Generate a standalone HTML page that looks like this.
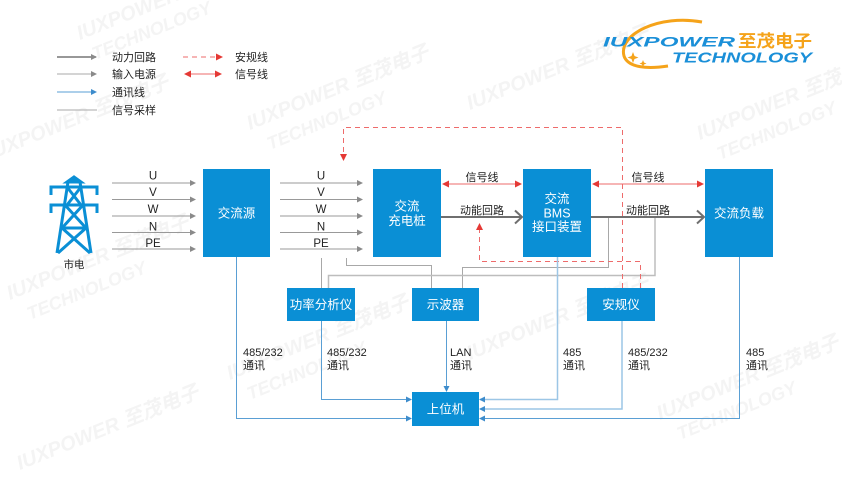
<!DOCTYPE html>
<html><head><meta charset="utf-8"><style>
html,body{margin:0;padding:0;background:#fff;}
svg{display:block;}
text{font-family:"Liberation Sans","Noto Sans CJK SC",sans-serif;}
</style></head><body>
<svg width="842" height="482" viewBox="0 0 842 482" xmlns="http://www.w3.org/2000/svg">
<defs>
<marker id="ag" markerWidth="6" markerHeight="6" refX="5" refY="3" orient="auto" markerUnits="userSpaceOnUse"><path d="M0,0 L6,3 L0,6 z" fill="#8a8a8a"/></marker>
<marker id="ab" markerWidth="6" markerHeight="6" refX="5" refY="3" orient="auto" markerUnits="userSpaceOnUse"><path d="M0,0 L6,3 L0,6 z" fill="#3d8ccc"/></marker>
<marker id="ar" markerWidth="7" markerHeight="7" refX="6" refY="3.5" orient="auto" markerUnits="userSpaceOnUse"><path d="M0,0 L7,3.5 L0,7 z" fill="#e53935"/></marker>
<marker id="ars" markerWidth="7" markerHeight="7" refX="1" refY="3.5" orient="auto" markerUnits="userSpaceOnUse"><path d="M7,0 L0,3.5 L7,7 z" fill="#e53935"/></marker>
</defs>

<!-- watermarks -->
<g fill="#f4f4f4" font-weight="bold" font-style="italic">
<text x="80" y="40" font-size="20" transform="rotate(-22 80 40)">IUXPOWER 至茂电子</text>
<text x="95" y="60" font-size="18" transform="rotate(-22 95 60)">TECHNOLOGY</text>
<text x="-10" y="160" font-size="20" transform="rotate(-22 -10 160)">IUXPOWER 至茂电子</text>
<text x="10" y="300" font-size="20" transform="rotate(-22 10 300)">IUXPOWER 至茂电子</text>
<text x="30" y="320" font-size="18" transform="rotate(-22 30 320)">TECHNOLOGY</text>
<text x="250" y="130" font-size="20" transform="rotate(-22 250 130)">IUXPOWER 至茂电子</text>
<text x="270" y="150" font-size="18" transform="rotate(-22 270 150)">TECHNOLOGY</text>
<text x="470" y="110" font-size="20" transform="rotate(-22 470 110)">IUXPOWER 至茂电子</text>
<text x="700" y="140" font-size="20" transform="rotate(-22 700 140)">IUXPOWER 至茂电子</text>
<text x="720" y="160" font-size="18" transform="rotate(-22 720 160)">TECHNOLOGY</text>
<text x="230" y="380" font-size="20" transform="rotate(-22 230 380)">IUXPOWER 至茂电子</text>
<text x="250" y="400" font-size="18" transform="rotate(-22 250 400)">TECHNOLOGY</text>
<text x="470" y="360" font-size="20" transform="rotate(-22 470 360)">IUXPOWER 至茂电子</text>
<text x="660" y="420" font-size="20" transform="rotate(-22 660 420)">IUXPOWER 至茂电子</text>
<text x="680" y="440" font-size="18" transform="rotate(-22 680 440)">TECHNOLOGY</text>
<text x="20" y="470" font-size="20" transform="rotate(-22 20 470)">IUXPOWER 至茂电子</text>
</g>

<!-- logo -->
<path d="M702,22 C660,14 618,34 624,56 C628,68 648,69 668,66" fill="none" stroke="#f5a31a" stroke-width="3"/>
<text x="603" y="46.5" font-size="14" font-weight="bold" font-style="italic" fill="#1a8fd8" textLength="132" lengthAdjust="spacingAndGlyphs">IUXPOWER</text>
<text x="738" y="47" font-size="17" font-weight="bold" fill="#f5a31a" textLength="74" lengthAdjust="spacingAndGlyphs">至茂电子</text>
<text x="672" y="62.5" font-size="15" font-weight="bold" font-style="italic" fill="#1a8fd8" textLength="140" lengthAdjust="spacingAndGlyphs">TECHNOLOGY</text>
<path d="M633,52 L634.5,56 L638.5,57.5 L634.5,59 L633,63 L631.5,59 L627.5,57.5 L631.5,56 z" fill="#f5a31a"/>
<path d="M643,60 L644,62.5 L646.5,63.5 L644,64.5 L643,67 L642,64.5 L639.5,63.5 L642,62.5 z" fill="#f5a31a"/>

<!-- legend -->
<g font-size="11" fill="#222">
<line x1="57" y1="57" x2="96" y2="57" stroke="#777" stroke-width="1.5" marker-end="url(#ag)"/>
<text x="112" y="61">动力回路</text>
<line x1="57" y1="74" x2="96" y2="74" stroke="#aaa" stroke-width="1" marker-end="url(#ag)"/>
<text x="112" y="78">输入电源</text>
<line x1="57" y1="92" x2="96" y2="92" stroke="#5a9fd4" stroke-width="1" marker-end="url(#ab)"/>
<text x="112" y="96">通讯线</text>
<line x1="57" y1="110" x2="97" y2="110" stroke="#aaa" stroke-width="1"/>
<text x="112" y="114">信号采样</text>
<line x1="183" y1="57" x2="222" y2="57" stroke="#ee6b6b" stroke-width="1" stroke-dasharray="5,4" marker-end="url(#ar)"/>
<text x="235" y="61">安规线</text>
<line x1="185" y1="74" x2="221" y2="74" stroke="#ee6b6b" stroke-width="1" marker-start="url(#ars)" marker-end="url(#ar)"/>
<text x="235" y="78">信号线</text>
</g>

<!-- tower -->
<g stroke="#0a8fd5" stroke-width="3" fill="none" stroke-linejoin="miter">
<path d="M74,177 L67,182 L81,182 z" fill="#0a8fd5"/>
<path d="M68,182 L57,253"/>
<path d="M80,182 L91,253"/>
<path d="M51,195 L51,187 L97,187 L97,195"/>
<path d="M51,213 L51,205 L97,205 L97,213"/>
<path d="M67,187 L81,205 M81,187 L67,205"/>
<path d="M65,205 L86,228 M83,205 L62,228"/>
<path d="M62,228 L90,253 M86,228 L58,253"/>
<path d="M62,228 L86,228"/>
</g>
<text x="74" y="268" font-size="10.5" text-anchor="middle" fill="#222">市电</text>

<!-- input lines left -->
<g stroke="#999" stroke-width="1" marker-end="url(#ag)">
<line x1="112" y1="183" x2="195" y2="183"/>
<line x1="112" y1="199.5" x2="195" y2="199.5"/>
<line x1="112" y1="216" x2="195" y2="216"/>
<line x1="112" y1="232.5" x2="195" y2="232.5"/>
<line x1="112" y1="249" x2="195" y2="249"/>
</g>
<g font-size="11.5" fill="#222" text-anchor="middle">
<text x="153" y="179.5">U</text><text x="153" y="196">V</text><text x="153" y="213">W</text><text x="153" y="230.5">N</text><text x="153" y="247">PE</text>
</g>
<!-- input lines right -->
<g stroke="#999" stroke-width="1" marker-end="url(#ag)">
<line x1="280" y1="183" x2="362" y2="183"/>
<line x1="280" y1="199.5" x2="362" y2="199.5"/>
<line x1="280" y1="216" x2="362" y2="216"/>
<line x1="280" y1="232.5" x2="362" y2="232.5"/>
<line x1="280" y1="249" x2="362" y2="249"/>
</g>
<g font-size="11.5" fill="#222" text-anchor="middle">
<text x="321" y="179.5">U</text><text x="321" y="196">V</text><text x="321" y="213">W</text><text x="321" y="230.5">N</text><text x="321" y="247">PE</text>
</g>

<!-- sampling lines -->
<g stroke="#a8a8a8" stroke-width="1" fill="none">
<path d="M321.5,258 V288"/>
<path d="M346.5,258 V265.5 H431.5 V288"/>
<path d="M608.5,218 V267.5 H462.5 V288"/>
</g>
<path d="M655,218 V275.5 H328.5 V288" stroke="#bdbdbd" stroke-width="1.5" fill="none"/>

<!-- red dashed (安规线) -->
<g stroke="#ee6b6b" stroke-width="1" fill="none" stroke-dasharray="5,4">
<path d="M622.5,288 V127.5 H343.5 V160" marker-end="url(#ar)"/>
<path d="M640.5,288 V261.5 H479.5 V224" marker-end="url(#ar)"/>
</g>

<!-- signal lines -->
<line x1="443" y1="184" x2="521" y2="184" stroke="#ee6b6b" stroke-width="1" marker-start="url(#ars)" marker-end="url(#ar)"/>
<line x1="593" y1="184" x2="703" y2="184" stroke="#ee6b6b" stroke-width="1" marker-start="url(#ars)" marker-end="url(#ar)"/>
<g font-size="11" fill="#222" text-anchor="middle">
<text x="482" y="181">信号线</text>
<text x="648" y="181">信号线</text>
<text x="482" y="214">动能回路</text>
<text x="648" y="214">动能回路</text>
</g>

<!-- power lines -->
<g stroke="#6f6f6f" stroke-width="2" fill="none">
<line x1="441" y1="217" x2="521" y2="217"/>
<path d="M515,210.5 L522,217 L515,223.5"/>
<line x1="591" y1="217" x2="703" y2="217"/>
<path d="M697,210.5 L704,217 L697,223.5"/>
</g>

<!-- communication lines -->
<g stroke="#5a9fd4" stroke-width="1" fill="none" marker-end="url(#ab)">
<path d="M236.5,257 V418.5 H411"/>
<path d="M321.5,321 V399.5 H411"/>
<path d="M446.5,321 V391"/>
<path d="M739.5,257 V418.5 H480"/>
</g>
<g stroke="#9cc6e6" stroke-width="1.5" fill="none" marker-end="url(#ab)">
<path d="M557.5,257 V399.5 H480"/>
<path d="M622,321 V409 H480"/>
</g>

<!-- comm labels -->
<g font-size="11" fill="#222">
<text x="243" y="356">485/232</text><text x="243" y="369">通讯</text>
<text x="327" y="356">485/232</text><text x="327" y="369">通讯</text>
<text x="450" y="356">LAN</text><text x="450" y="369">通讯</text>
<text x="563" y="356">485</text><text x="563" y="369">通讯</text>
<text x="628" y="356">485/232</text><text x="628" y="369">通讯</text>
<text x="746" y="356">485</text><text x="746" y="369">通讯</text>
</g>

<!-- boxes -->
<g fill="#0a8fd5">
<rect x="203" y="169" width="67" height="88"/>
<rect x="373" y="169" width="68" height="88"/>
<rect x="523" y="169" width="68" height="88"/>
<rect x="705" y="169" width="68" height="88"/>
<rect x="287" y="288" width="68" height="33"/>
<rect x="412" y="288" width="67" height="33"/>
<rect x="587" y="288" width="68" height="33"/>
<rect x="412" y="392" width="67" height="34"/>
</g>
<g font-size="12.5" fill="#fff" text-anchor="middle">
<text x="236.5" y="217.5">交流源</text>
<text x="407" y="210.5">交流</text><text x="407" y="225">充电桩</text>
<text x="557" y="203">交流</text><text x="557" y="217.5">BMS</text><text x="557" y="231">接口装置</text>
<text x="739" y="217.5">交流负载</text>
<text x="321" y="309">功率分析仪</text>
<text x="445.5" y="309">示波器</text>
<text x="621" y="309">安规仪</text>
<text x="445.5" y="413.5">上位机</text>
</g>
</svg>
</body></html>
